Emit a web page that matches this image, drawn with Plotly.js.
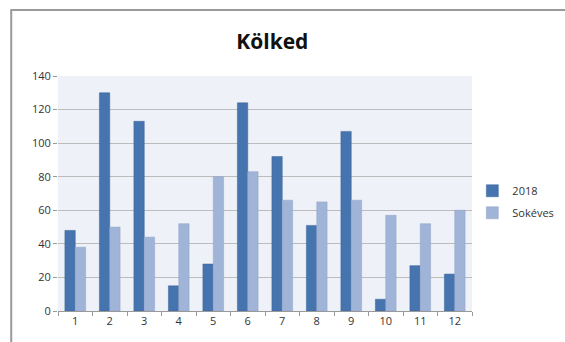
<!DOCTYPE html>
<html><head><meta charset="utf-8">
<script src="https://cdn.plot.ly/plotly-3.0.1.min.js"></script>
<style>
html,body{margin:0;padding:0;background:#fff;overflow:hidden;width:565px;height:342px;}
#chart{position:absolute;left:0;top:0;width:565px;height:342px;}
</style></head>
<body><div id="chart"></div>
<script>
const months = ['1','2','3','4','5','6','7','8','9','10','11','12'];
const values2018 = [48,130,113,15,28,124,92,51,107,7,27,22];
const valuesSokeves = [38,50,44,52,80,83,66,65,66,57,52,60];
const seriesNames = ['2018','Sokéves'];
const yTicks = [0,20,40,60,80,100,120,140];

const traces = [
  {type:'bar', x:months, y:values2018, name:seriesNames[0], legendgroup:'a',
   marker:{color:'#4674ae', line:{color:'#3a6398', width:0.5}}},
  {type:'bar', x:months, y:valuesSokeves, name:seriesNames[1], legendgroup:'b',
   marker:{color:'#a0b4d8', line:{color:'#8ea3c9', width:0.5}}}
];
const layout = {
  width:565, height:342,
  margin:{l:58, r:93, t:76, b:31},
  paper_bgcolor:'#fff',
  plot_bgcolor:'#eef1f7',
  title:{text:'<b>Kölked</b>', x:0.482, xanchor:'center', y:0.877, yanchor:'middle',
         font:{family:'Open Sans, DejaVu Sans, sans-serif', size:21, color:'#111'}},
  barmode:'group', bargap:0.4, bargroupgap:0,
  showlegend:true,
  legend:{xref:'container', yref:'container', x:0.836, xanchor:'left', y:0.41, yanchor:'middle',
          font:{family:'Open Sans, sans-serif', size:11, color:'#333'},
          bgcolor:'rgba(0,0,0,0)', traceorder:'grouped', tracegroupgap:3, itemwidth:30},
  shapes:[
    {type:'line', xref:'paper', yref:'paper', x0:-0.113, x1:-0.113, y0:1.281, y1:-0.14,
     line:{color:'#9a9a9a', width:2}},
    {type:'line', xref:'paper', yref:'paper', x0:-0.115, x1:1.23, y0:1.281, y1:1.281,
     line:{color:'#9a9a9a', width:2}}
  ],
  xaxis:{type:'category', tickvals:months, ticktext:months,
         tickson:'boundaries', ticks:'outside', ticklen:4, tickcolor:'#999',
         showline:true, linecolor:'#999', linewidth:1, showgrid:false,
         tickfont:{family:'Open Sans, sans-serif', size:11, color:'#333'}},
  yaxis:{range:[0,140], tickvals:yTicks, ticks:'outside', ticklen:4, tickcolor:'#999',
         showgrid:true, gridcolor:'#bcbcbc', gridwidth:1, zeroline:false, showline:false,
         tickfont:{family:'Open Sans, sans-serif', size:11, color:'#333'}},
  font:{family:'Open Sans, sans-serif'}
};
Plotly.newPlot('chart', traces, layout, {displayModeBar:false, staticPlot:true});
</script></body></html>
